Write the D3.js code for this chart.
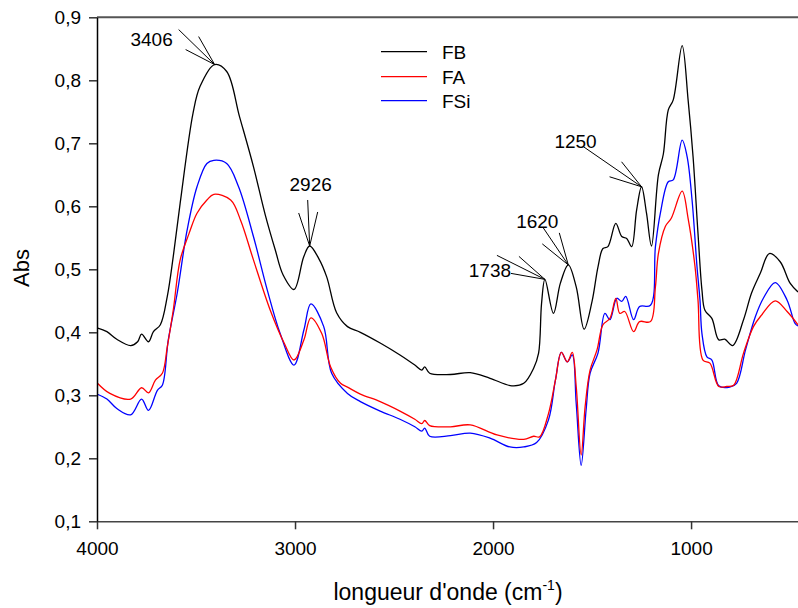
<!DOCTYPE html>
<html>
<head>
<meta charset="utf-8">
<script src="https://cdn.jsdelivr.net/npm/d3@7"></script>
<style>
  html, body { margin: 0; padding: 0; background: #fff; }
  svg { display: block; font-family: "Liberation Sans", Arial, sans-serif; }
</style>
</head>
<body>
<svg id="chart" width="798" height="608"></svg>
<script>
// IR spectra: wavenumber (cm-1) vs absorbance
const FB = [
  [4000,0.407],[3950,0.401],[3900,0.389],[3830,0.379],[3795,0.385],[3775,0.397],[3740,0.385],
  [3715,0.401],[3680,0.412],[3645,0.457],[3615,0.520],[3580,0.605],[3515,0.748],[3480,0.790],
  [3406,0.825],[3345,0.814],[3280,0.742],[3210,0.663],[3150,0.586],[3100,0.531],[3060,0.491],
  [3005,0.468],[2956,0.520],[2926,0.537],[2880,0.517],[2840,0.488],[2790,0.431],[2735,0.409],
  [2670,0.400],[2570,0.383],[2470,0.364],[2395,0.348],[2360,0.340],[2345,0.345],[2320,0.335],
  [2215,0.333],[2115,0.336],[2015,0.327],[1905,0.315],[1845,0.319],[1795,0.343],[1770,0.367],
  [1755,0.446],[1738,0.484],[1695,0.430],[1660,0.478],[1620,0.507],[1580,0.472],[1540,0.405],
  [1500,0.449],[1470,0.504],[1445,0.533],[1420,0.536],[1380,0.573],[1350,0.552],[1325,0.549],
  [1300,0.536],[1275,0.594],[1250,0.631],[1225,0.589],[1200,0.537],[1165,0.650],[1140,0.683],
  [1115,0.753],[1090,0.769],[1045,0.855],[1015,0.769],[990,0.679],[965,0.557],[945,0.467],
  [930,0.435],[895,0.422],[860,0.388],[830,0.389],[790,0.379],[735,0.420],[695,0.462],
  [650,0.494],[605,0.525],[550,0.512],[500,0.478],[460,0.464]
];
const FA = [
  [4000,0.320],[3935,0.303],[3830,0.294],[3775,0.312],[3740,0.304],[3705,0.324],[3670,0.335],
  [3645,0.377],[3615,0.435],[3580,0.515],[3535,0.557],[3495,0.589],[3445,0.610],[3410,0.619],
  [3325,0.610],[3275,0.578],[3210,0.515],[3125,0.435],[3055,0.383],[3005,0.356],[2955,0.388],
  [2920,0.423],[2865,0.398],[2820,0.345],[2770,0.319],[2735,0.313],[2670,0.302],[2570,0.290],
  [2470,0.275],[2395,0.262],[2360,0.255],[2345,0.260],[2320,0.252],[2215,0.250],[2115,0.253],
  [1980,0.237],[1845,0.230],[1795,0.235],[1765,0.234],[1720,0.271],[1685,0.324],[1655,0.368],
  [1625,0.353],[1600,0.368],[1580,0.314],[1555,0.205],[1535,0.282],[1510,0.340],[1475,0.372],
  [1445,0.412],[1410,0.422],[1380,0.454],[1360,0.430],[1335,0.433],[1290,0.401],[1260,0.417],
  [1205,0.417],[1180,0.472],[1165,0.525],[1130,0.568],[1100,0.581],[1045,0.624],[1015,0.581],
  [980,0.504],[965,0.451],[940,0.356],[905,0.351],[860,0.314],[820,0.314],[785,0.316],
  [735,0.367],[685,0.409],[645,0.427],[575,0.450],[515,0.433],[460,0.412]
];
const FSi = [
  [4000,0.302],[3950,0.294],[3900,0.279],[3830,0.269],[3775,0.294],[3740,0.276],[3695,0.308],
  [3670,0.316],[3640,0.388],[3595,0.462],[3545,0.562],[3495,0.631],[3445,0.668],[3410,0.673],
  [3345,0.668],[3285,0.631],[3210,0.552],[3140,0.467],[3075,0.398],[3005,0.348],[2955,0.404],
  [2920,0.445],[2855,0.409],[2815,0.335],[2735,0.303],[2670,0.290],[2570,0.275],[2470,0.262],
  [2395,0.250],[2360,0.243],[2345,0.248],[2320,0.235],[2215,0.236],[2115,0.240],[2015,0.232],
  [1915,0.218],[1845,0.218],[1780,0.225],[1720,0.261],[1685,0.324],[1655,0.368],[1625,0.353],
  [1600,0.364],[1580,0.287],[1555,0.189],[1530,0.277],[1510,0.335],[1470,0.367],[1435,0.430],
  [1410,0.420],[1375,0.454],[1350,0.449],[1330,0.457],[1290,0.420],[1260,0.441],[1205,0.443],
  [1180,0.536],[1155,0.589],[1115,0.639],[1090,0.642],[1045,0.705],[1020,0.679],[995,0.610],
  [970,0.504],[955,0.451],[945,0.398],[920,0.361],[895,0.356],[860,0.315],[805,0.313],
  [770,0.319],[725,0.372],[675,0.425],[635,0.454],[575,0.479],[515,0.451],[475,0.414],[460,0.410]
];

const seriesNames = ["FB", "FA", "FSi"];
const seriesColors = ["#000000", "#ff0000", "#0000ff"];
const xTicks = [4000, 3000, 2000, 1000];
const yTicks = [0.1, 0.2, 0.3, 0.4, 0.5, 0.6, 0.7, 0.8, 0.9];
const peaks = [3406, 2926, 1738, 1620, 1250];

// label placement and leader lines, in px relative to the peak tip
const peakLayout = {
  3406: { tx: -63, ty: -19, lines: [[-36,-35],[-16,-28],[-29,-15]] },
  2926: { tx:   1, ty: -55, lines: [[-11,-33],[-2,-46],[8,-34]] },
  1738: { tx: -55, ty:  -2, lines: [[-48,-24],[-26,-23],[-34,-6]] },
  1620: { tx: -31, ty: -37, lines: [[-25,-37],[-9,-32],[-26,-21]] },
  1250: { tx: -66, ty: -39, lines: [[-58,-40],[-20,-25],[-32,-10]] }
};

const svg = d3.select("#chart");
const plotLeft = 97, plotRight = 798, plotTop = 17.3, plotBottom = 521.3;

const x = d3.scaleLinear().domain([4000, 460]).range([plotLeft, plotRight]);
const y = d3.scaleLinear().domain([0.1, 0.9]).range([plotBottom, plotTop]);

const fmt = v => d3.format(".1f")(v).replace(".", ",");

svg.append("clipPath").attr("id", "plot-clip")
  .append("rect").attr("x", plotLeft).attr("y", 0)
  .attr("width", plotRight - plotLeft).attr("height", plotBottom);

// spectra
const line = d3.line().x(d => x(d[0])).y(d => y(d[1])).curve(d3.curveCatmullRom.alpha(0.5));
const allSeries = [FB, FA, FSi];
const g = svg.append("g").attr("clip-path", "url(#plot-clip)");
[2, 1, 0].forEach(i => {
  g.append("path")
    .datum(allSeries[i])
    .attr("fill", "none")
    .attr("stroke", seriesColors[i])
    .attr("stroke-width", 1.3)
    .attr("stroke-linejoin", "round")
    .attr("d", line);
});

// frame: top border
svg.append("line").attr("x1", plotLeft).attr("x2", plotRight).attr("y1", plotTop).attr("y2", plotTop)
  .attr("stroke", "#555").attr("stroke-width", 2);

// x axis
const xAxis = svg.append("g").attr("transform", `translate(0,${plotBottom})`)
  .call(d3.axisBottom(x).tickValues(xTicks).tickFormat(d3.format("d"))
    .tickSize(8).tickSizeOuter(0).tickPadding(12));
xAxis.select(".domain").attr("stroke", "#444").attr("stroke-width", 1.5);
xAxis.selectAll(".tick line").attr("stroke", "#333").attr("stroke-width", 1.5);
xAxis.selectAll(".tick text").attr("font-size", 19).attr("fill", "#000")
  .attr("font-family", "Liberation Sans, Arial, sans-serif");

// y axis
const yAxis = svg.append("g").attr("transform", `translate(${plotLeft},0)`)
  .call(d3.axisLeft(y).tickValues(yTicks).tickFormat(fmt)
    .tickSize(8).tickSizeOuter(0).tickPadding(8));
yAxis.select(".domain").attr("stroke", "#000").attr("stroke-width", 1.5);
yAxis.selectAll(".tick line").attr("stroke", "#333").attr("stroke-width", 1.5);
yAxis.selectAll(".tick text").attr("font-size", 19).attr("fill", "#000")
  .attr("font-family", "Liberation Sans, Arial, sans-serif");

// axis titles
const xt = svg.append("text").attr("x", 448).attr("y", 600).attr("text-anchor", "middle")
  .attr("font-size", 23).attr("fill", "#000");
xt.append("tspan").text("longueur d'onde (cm");
xt.append("tspan").attr("font-size", 14).attr("dy", -10).text("-1");
xt.append("tspan").attr("dy", 10).text(")");

svg.append("text").attr("transform", "translate(29,268) rotate(-90)")
  .attr("text-anchor", "middle").attr("font-size", 22).attr("fill", "#000").text("Abs");

// peak annotations on FB
const fbMap = new Map(FB.map(d => [d[0], d[1]]));
const ann = svg.append("g");
peaks.forEach(p => {
  const L = peakLayout[p];
  const tx = x(p), ty = y(fbMap.get(p));
  L.lines.forEach(o => {
    ann.append("line").attr("x1", tx).attr("y1", ty).attr("x2", tx + o[0]).attr("y2", ty + o[1])
      .attr("stroke", "#000").attr("stroke-width", 1);
  });
  ann.append("text").attr("x", tx + L.tx).attr("y", ty + L.ty).attr("text-anchor", "middle")
    .attr("font-size", 19).attr("fill", "#000").text(p);
});

// legend
const legend = svg.append("g");
const legendY = [51.7, 76.7, 100.7];
seriesNames.forEach((name, i) => {
  legend.append("line").attr("x1", 381).attr("x2", 427).attr("y1", legendY[i]).attr("y2", legendY[i])
    .attr("stroke", seriesColors[i]).attr("stroke-width", 1.3);
  legend.append("text").attr("x", 442).attr("y", legendY[i] + 7).attr("font-size", 19)
    .attr("fill", "#000").text(name);
});
</script>
</body>
</html>
